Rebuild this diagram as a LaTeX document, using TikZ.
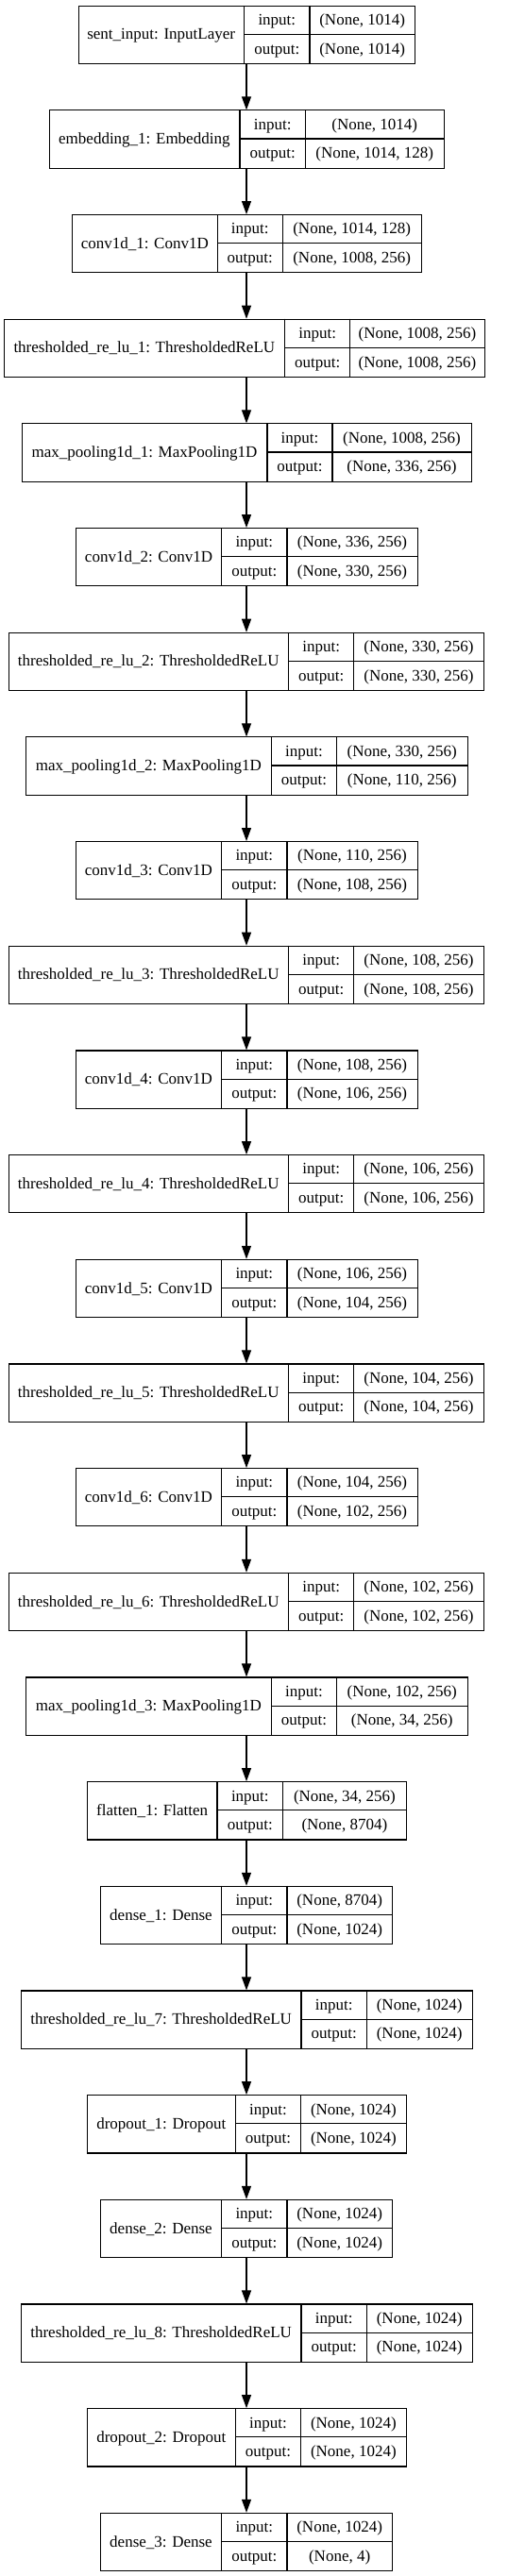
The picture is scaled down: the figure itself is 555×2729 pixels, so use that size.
\documentclass[tikz,border=0pt]{standalone}
\usepackage{fontspec}
\setmainfont{Liberation Serif}
\usetikzlibrary{arrows.meta}
\tikzset{
  cellbox/.style={draw=black, line width=1.1pt, inner sep=0pt},
  cellline/.style={draw=black, line width=1.1pt},
  celltxt/.style={inner sep=0pt, font=\fontsize{17}{20}\selectfont, text=black, text height=11.2pt, text depth=0pt},
  flow/.style={draw=black, line width=1.1pt, -{Triangle[length=14pt,width=10pt]}}
}
\newcommand{\kerlayer}[9]{%
  \pgfmathsetmacro{\ktop}{5.7+110.67*#2}%
  \pgfmathsetmacro{\kbot}{\ktop+61.3}%
  \pgfmathsetmacro{\kmid}{\ktop+30.65}%
  \pgfmathsetmacro{\kw}{#6-#3}%
  \pgfmathsetmacro{\kuy}{\ktop+15.3}%
  \pgfmathsetmacro{\kly}{\ktop+45.9}%
  \pgfmathsetmacro{\knx}{(#3+#4)/2}%
  \pgfmathsetmacro{\klx}{(#4+#5)/2}%
  \pgfmathsetmacro{\kvx}{(#5+#6)/2}%
  \node[cellbox, anchor=north west, minimum width=\kw pt, minimum height=61.3pt] (#1) at (#3,\ktop) {};
  \draw[cellline] (#4,\ktop) -- (#4,\kbot);
  \draw[cellline] (#5,\ktop) -- (#5,\kbot);
  \draw[cellline] (#4,\kmid) -- (#6,\kmid);
  \node[celltxt] (#1-name) at (\knx,\kmid) {#7};
  \node[celltxt] (#1-il) at (\klx,\kuy) {input:};
  \node[celltxt] (#1-ol) at (\klx,\kly) {output:};
  \node[celltxt] (#1-iv) at (\kvx,\kuy) {#8};
  \node[celltxt] (#1-ov) at (\kvx,\kly) {#9};
}
\begin{document}
\begin{tikzpicture}[x=1pt, y=-1pt]
\useasboundingbox (0,0) rectangle (555,2729);
\coordinate (ax) at (261,0);
\kerlayer{l0}{0}{82.7}{258.7}{328}{439.3}{sent\_input: InputLayer}{(None, 1014)}{(None, 1014)}
\kerlayer{l1}{1}{51.7}{254}{323.3}{470.3}{embedding\_1: Embedding}{(None, 1014)}{(None, 1014, 128)}
\kerlayer{l2}{2}{76.3}{230.3}{299.3}{446}{conv1d\_1: Conv1D}{(None, 1014, 128)}{(None, 1008, 256)}
\kerlayer{l3}{3}{4}{301.7}{370.7}{513.3}{thresholded\_re\_lu\_1: ThresholdedReLU}{(None, 1008, 256)}{(None, 1008, 256)}
\kerlayer{l4}{4}{23}{283}{352}{499}{max\_pooling1d\_1: MaxPooling1D}{(None, 1008, 256)}{(None, 336, 256)}
\kerlayer{l5}{5}{80.3}{234.7}{304}{442}{conv1d\_2: Conv1D}{(None, 336, 256)}{(None, 330, 256)}
\kerlayer{l6}{6}{8.7}{305.7}{374.7}{512.3}{thresholded\_re\_lu\_2: ThresholdedReLU}{(None, 330, 256)}{(None, 330, 256)}
\kerlayer{l7}{7}{27.3}{287.3}{356.7}{494.7}{max\_pooling1d\_2: MaxPooling1D}{(None, 330, 256)}{(None, 110, 256)}
\kerlayer{l8}{8}{80}{234.7}{304}{442}{conv1d\_3: Conv1D}{(None, 110, 256)}{(None, 108, 256)}
\kerlayer{l9}{9}{8.7}{305.7}{374.7}{512.3}{thresholded\_re\_lu\_3: ThresholdedReLU}{(None, 108, 256)}{(None, 108, 256)}
\kerlayer{l10}{10}{80}{234.7}{304}{442}{conv1d\_4: Conv1D}{(None, 108, 256)}{(None, 106, 256)}
\kerlayer{l11}{11}{8.7}{305.7}{374.7}{512.3}{thresholded\_re\_lu\_4: ThresholdedReLU}{(None, 106, 256)}{(None, 106, 256)}
\kerlayer{l12}{12}{80}{234.7}{304}{442}{conv1d\_5: Conv1D}{(None, 106, 256)}{(None, 104, 256)}
\kerlayer{l13}{13}{8.7}{305.7}{374.7}{512.3}{thresholded\_re\_lu\_5: ThresholdedReLU}{(None, 104, 256)}{(None, 104, 256)}
\kerlayer{l14}{14}{80}{234.7}{304}{442}{conv1d\_6: Conv1D}{(None, 104, 256)}{(None, 102, 256)}
\kerlayer{l15}{15}{8.7}{305.7}{374.7}{512.3}{thresholded\_re\_lu\_6: ThresholdedReLU}{(None, 102, 256)}{(None, 102, 256)}
\kerlayer{l16}{16}{27.3}{287.3}{356.7}{494.7}{max\_pooling1d\_3: MaxPooling1D}{(None, 102, 256)}{(None, 34, 256)}
\kerlayer{l17}{17}{92.3}{230}{299.7}{430}{flatten\_1: Flatten}{(None, 34, 256)}{(None, 8704)}
\kerlayer{l18}{18}{106.3}{234.7}{304}{415.3}{dense\_1: Dense}{(None, 8704)}{(None, 1024)}
\kerlayer{l19}{19}{22.3}{319}{388.3}{500}{thresholded\_re\_lu\_7: ThresholdedReLU}{(None, 1024)}{(None, 1024)}
\kerlayer{l20}{20}{92.3}{249.3}{318.7}{430}{dropout\_1: Dropout}{(None, 1024)}{(None, 1024)}
\kerlayer{l21}{21}{106.3}{234.7}{304}{415.3}{dense\_2: Dense}{(None, 1024)}{(None, 1024)}
\kerlayer{l22}{22}{22.3}{319}{388.3}{500}{thresholded\_re\_lu\_8: ThresholdedReLU}{(None, 1024)}{(None, 1024)}
\kerlayer{l23}{23}{92.3}{249.3}{318.7}{430}{dropout\_2: Dropout}{(None, 1024)}{(None, 1024)}
\kerlayer{l24}{24}{106.3}{234.7}{304}{415.3}{dense\_3: Dense}{(None, 1024)}{(None, 4)}
\foreach \i [evaluate=\i as \j using int(\i+1)] in {0,...,23} {
  \draw[flow] (l\i.south -| ax) -- (l\j.north -| ax);
}
\end{tikzpicture}
\end{document}
